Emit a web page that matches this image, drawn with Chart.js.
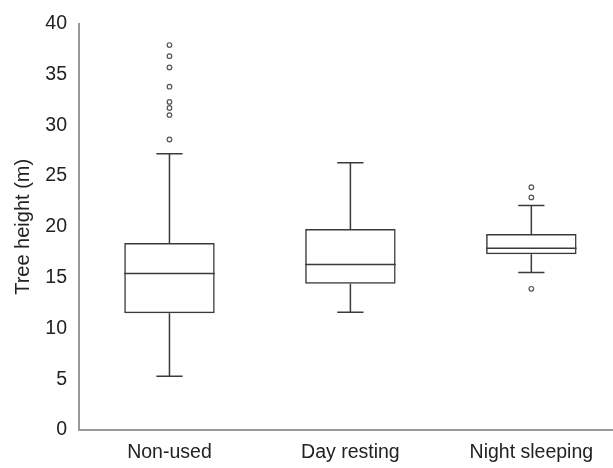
<!DOCTYPE html>
<html>
<head>
<meta charset="utf-8">
<script src="https://cdn.jsdelivr.net/npm/chart.js@4/dist/chart.umd.min.js"></script>
<style>
  html, body { margin: 0; padding: 0; background: #fff; overflow: hidden; }
  #wrap { width: 627px; height: 468px; position: relative; }
</style>
</head>
<body>
<div id="wrap"><canvas id="c"></canvas></div>
<script>
const categories = ['Non-used', 'Day resting', 'Night sleeping'];
const mins    = [5.3, 11.6, 15.5];
const q1s     = [11.5, 14.4, 17.3];
const medians = [15.4, 16.3, 17.9];
const q3s     = [18.4, 19.8, 19.3];
const maxs    = [27.2, 26.3, 22.1];
const outliersNonUsed = [37.9, 36.8, 35.7, 33.8, 32.3, 31.7, 31.0, 28.6];
const outliersDay = [];
const outliersNight = [23.9, 22.9, 13.9];
const yTicks = [0, 5, 10, 15, 20, 25, 30, 35, 40];

const outlierPoints = [];
[outliersNonUsed, outliersDay, outliersNight].forEach((arr, i) => {
  arr.forEach(v => outlierPoints.push({ x: categories[i], y: v }));
});

const LINE = '#3a3a3a';
const FONT = 'Liberation Sans, Arial, sans-serif';

const whiskerPlugin = {
  id: 'whiskers',
  afterDatasetsDraw(chart) {
    const ctx = chart.ctx;
    const xs = chart.scales.x, ys = chart.scales.y;
    const catW = (xs.right - xs.left) / categories.length;
    const boxW = catW * 0.5;
    const capW = catW * 0.145;
    ctx.save();
    ctx.strokeStyle = LINE;
    ctx.lineWidth = 1.5;
    categories.forEach((c, i) => {
      const x = xs.getPixelForValue(i);
      const yMin = ys.getPixelForValue(mins[i]);
      const yMax = ys.getPixelForValue(maxs[i]);
      const yQ1 = ys.getPixelForValue(q1s[i]);
      const yQ3 = ys.getPixelForValue(q3s[i]);
      const yMed = ys.getPixelForValue(medians[i]);
      ctx.beginPath();
      ctx.moveTo(x, yQ3); ctx.lineTo(x, yMax);
      ctx.moveTo(x - capW / 2, yMax); ctx.lineTo(x + capW / 2, yMax);
      ctx.moveTo(x, yQ1); ctx.lineTo(x, yMin);
      ctx.moveTo(x - capW / 2, yMin); ctx.lineTo(x + capW / 2, yMin);
      ctx.moveTo(x - boxW / 2, yMed); ctx.lineTo(x + boxW / 2, yMed);
      ctx.stroke();
    });
    ctx.restore();
  }
};

new Chart(document.getElementById('c'), {
  type: 'bar',
  data: {
    labels: categories,
    datasets: [
      {
        type: 'bar',
        data: categories.map((c, i) => [q1s[i], q3s[i]]),
        backgroundColor: 'rgba(255,255,255,0)',
        borderColor: LINE,
        borderWidth: 1.5,
        borderSkipped: false,
        categoryPercentage: 1,
        barPercentage: 0.5,
        order: 2
      },
      {
        type: 'line',
        data: outlierPoints,
        showLine: false,
        pointStyle: 'circle',
        pointRadius: 2.3,
        pointBorderWidth: 1.2,
        pointBorderColor: '#555',
        pointBackgroundColor: '#fff',
        order: 1
      }
    ]
  },
  options: {
    responsive: true,
    maintainAspectRatio: false,
    animation: false,
    events: [],
    layout: { padding: { top: 21, left: 0, right: 0, bottom: 0 } },
    plugins: { legend: { display: false }, tooltip: { enabled: false } },
    scales: {
      x: {
        type: 'category',
        offset: true,
        grid: { display: false, drawTicks: false },
        border: { display: true, color: '#999', width: 2 },
        ticks: { color: '#222', font: { family: FONT, size: 19.5 }, padding: 11, maxRotation: 0, autoSkip: false },
        afterFit(s) { s.height = 38; }
      },
      y: {
        min: 0, max: 40,
        afterBuildTicks(s) { s.ticks = yTicks.map(v => ({ value: v })); },
        grid: { display: false, drawTicks: false },
        border: { display: true, color: '#999', width: 2 },
        ticks: { color: '#222', font: { family: FONT, size: 19.5 }, padding: 12 },
        title: { display: true, text: 'Tree height (m)', color: '#222', font: { family: FONT, size: 20 }, padding: { top: 11, bottom: 4 } },
        afterFit(s) { s.width = 79; }
      }
    }
  },
  plugins: [whiskerPlugin]
});
</script>
</body>
</html>
